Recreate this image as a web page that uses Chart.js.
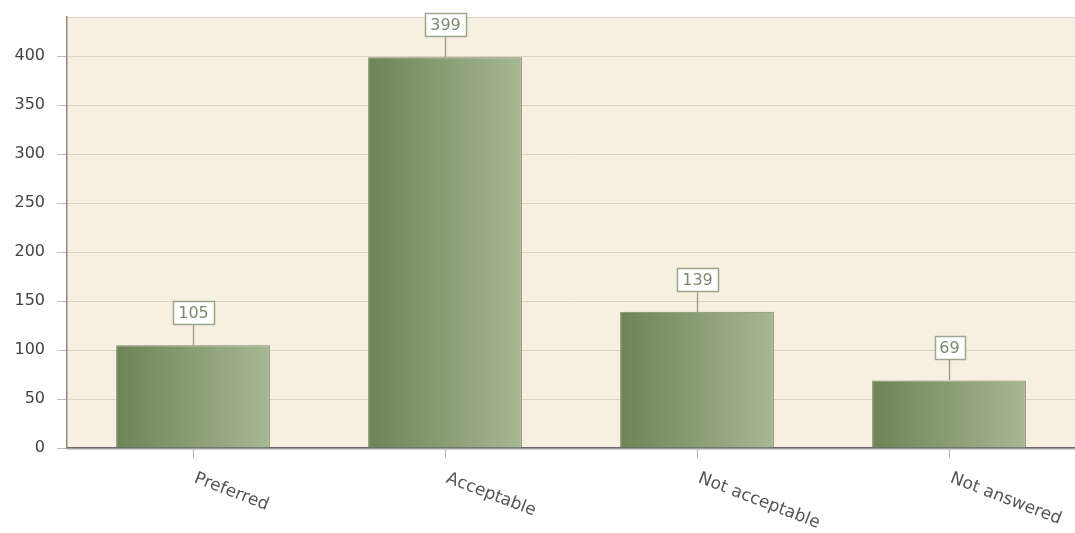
<!DOCTYPE html>
<html>
<head>
<meta charset="utf-8">
<script src="https://cdn.jsdelivr.net/npm/chart.js@4/dist/chart.umd.min.js"></script>
<style>
  html, body { margin: 0; padding: 0; background: #fff; }
  #wrap { width: 1075px; height: 533px; }
</style>
</head>
<body>
<div id="wrap"><canvas id="chart"></canvas></div>
<script>
// data
const categories = ["Preferred", "Acceptable", "Not acceptable", "Not answered"];
const counts = [105, 399, 139, 69];
const yTicks = [0, 50, 100, 150, 200, 250, 300, 350, 400];

const FONT = "'DejaVu Sans', Verdana, sans-serif";
const BAR_FRACTION = 0.61;

// plot background + subtle shadow under the x axis
const plotBg = {
  id: "plotBg",
  beforeDraw(chart) {
    const { ctx, chartArea: a } = chart;
    ctx.save();
    ctx.fillStyle = "#f7efe1";
    ctx.fillRect(a.left, a.top, a.right - a.left, a.bottom - a.top);
    ctx.strokeStyle = "#dcd4c4";
    ctx.beginPath();
    ctx.moveTo(a.left, a.top + 0.5);
    ctx.lineTo(a.right, a.top + 0.5);
    ctx.stroke();
    ctx.strokeStyle = "#d0d0d0";
    ctx.beginPath();
    ctx.moveTo(a.left, a.bottom + 1.5);
    ctx.lineTo(a.right, a.bottom + 1.5);
    ctx.stroke();
    ctx.restore();
  }
};

// value boxes on top of bars
const valueBoxes = {
  id: "valueBoxes",
  afterDatasetsDraw(chart) {
    const { ctx } = chart;
    const meta = chart.getDatasetMeta(0);
    ctx.save();
    ctx.font = "16px " + FONT;
    ctx.textAlign = "center";
    ctx.textBaseline = "middle";
    meta.data.forEach((bar, i) => {
      const txt = String(counts[i]);
      const x = Math.round(bar.x) + 0.5;
      const top = Math.round(bar.y);
      const w = Math.round(ctx.measureText(txt).width) + 10;
      const h = 23;
      const boxBottom = top - 21;
      ctx.strokeStyle = "#9aa78a";
      ctx.lineWidth = 1.5;
      ctx.beginPath();
      ctx.moveTo(x, top);
      ctx.lineTo(x, boxBottom);
      ctx.stroke();
      ctx.fillStyle = "#ffffff";
      const bx = Math.round(x - w / 2) + 0.5;
      ctx.fillRect(bx, boxBottom - h + 0.5, w, h);
      ctx.strokeRect(bx, boxBottom - h + 0.5, w, h);
      ctx.fillStyle = "#7b8a6a";
      ctx.fillText(txt, x, boxBottom - h / 2 + 1);
    });
    ctx.restore();
  }
};

// slanted category labels (going down to the right)
const slantLabels = {
  id: "slantLabels",
  afterDraw(chart) {
    const { ctx } = chart;
    const xs = chart.scales.x;
    ctx.save();
    ctx.font = "17px " + FONT;
    ctx.fillStyle = "#555555";
    ctx.textAlign = "left";
    ctx.textBaseline = "top";
    categories.forEach((c, i) => {
      const x = xs.getPixelForTick(i);
      ctx.save();
      ctx.translate(x + 5, chart.chartArea.bottom + 22);
      ctx.rotate(21 * Math.PI / 180);
      ctx.fillText(c, 0, 0);
      ctx.restore();
    });
    ctx.restore();
  }
};

const ctx = document.getElementById("chart").getContext("2d");

new Chart(ctx, {
  type: "bar",
  data: {
    labels: categories,
    datasets: [{
      data: counts,
      backgroundColor: (c) => {
        const chart = c.chart;
        const xs = chart.scales.x;
        if (!chart.chartArea || !xs || c.dataIndex === undefined) return "#8a9e72";
        const cx = xs.getPixelForValue(c.dataIndex);
        const w = (xs.width / categories.length) * BAR_FRACTION;
        const g = chart.ctx.createLinearGradient(cx - w / 2, 0, cx + w / 2, 0);
        g.addColorStop(0, "#6d8456");
        g.addColorStop(1, "#a7b794");
        return g;
      },
      borderColor: "#7a8b68",
      borderWidth: 1,
      categoryPercentage: BAR_FRACTION,
      barPercentage: 1
    }]
  },
  options: {
    responsive: true,
    maintainAspectRatio: false,
    animation: false,
    layout: { padding: { top: 17, right: 0, left: 0, bottom: 0 } },
    plugins: {
      legend: { display: false },
      tooltip: { enabled: false }
    },
    scales: {
      x: {
        grid: {
          display: true,
          drawOnChartArea: false,
          drawTicks: true,
          tickLength: 10,
          tickColor: "#b8b8b0",
          offset: false
        },
        border: { color: "#6a6a6a", width: 1.5 },
        ticks: { display: false },
        afterFit(scale) {
          scale.height = 85;
          scale.paddingLeft = 0;
          scale.paddingRight = 0;
        }
      },
      y: {
        min: 0,
        max: 440,
        afterBuildTicks(scale) {
          scale.ticks = yTicks.map(v => ({ value: v }));
        },
        grid: {
          color: "#ddd3c1",
          tickColor: "#bdbdb5",
          tickLength: 10
        },
        border: { color: "#8c8c84", width: 1.5 },
        ticks: {
          color: "#444444",
          font: { family: FONT, size: 16 },
          padding: 12
        },
        afterFit(scale) {
          scale.width = 67;
          scale.paddingTop = 0;
          scale.paddingBottom = 0;
        }
      }
    }
  },
  plugins: [plotBg, valueBoxes, slantLabels]
});
</script>
</body>
</html>
